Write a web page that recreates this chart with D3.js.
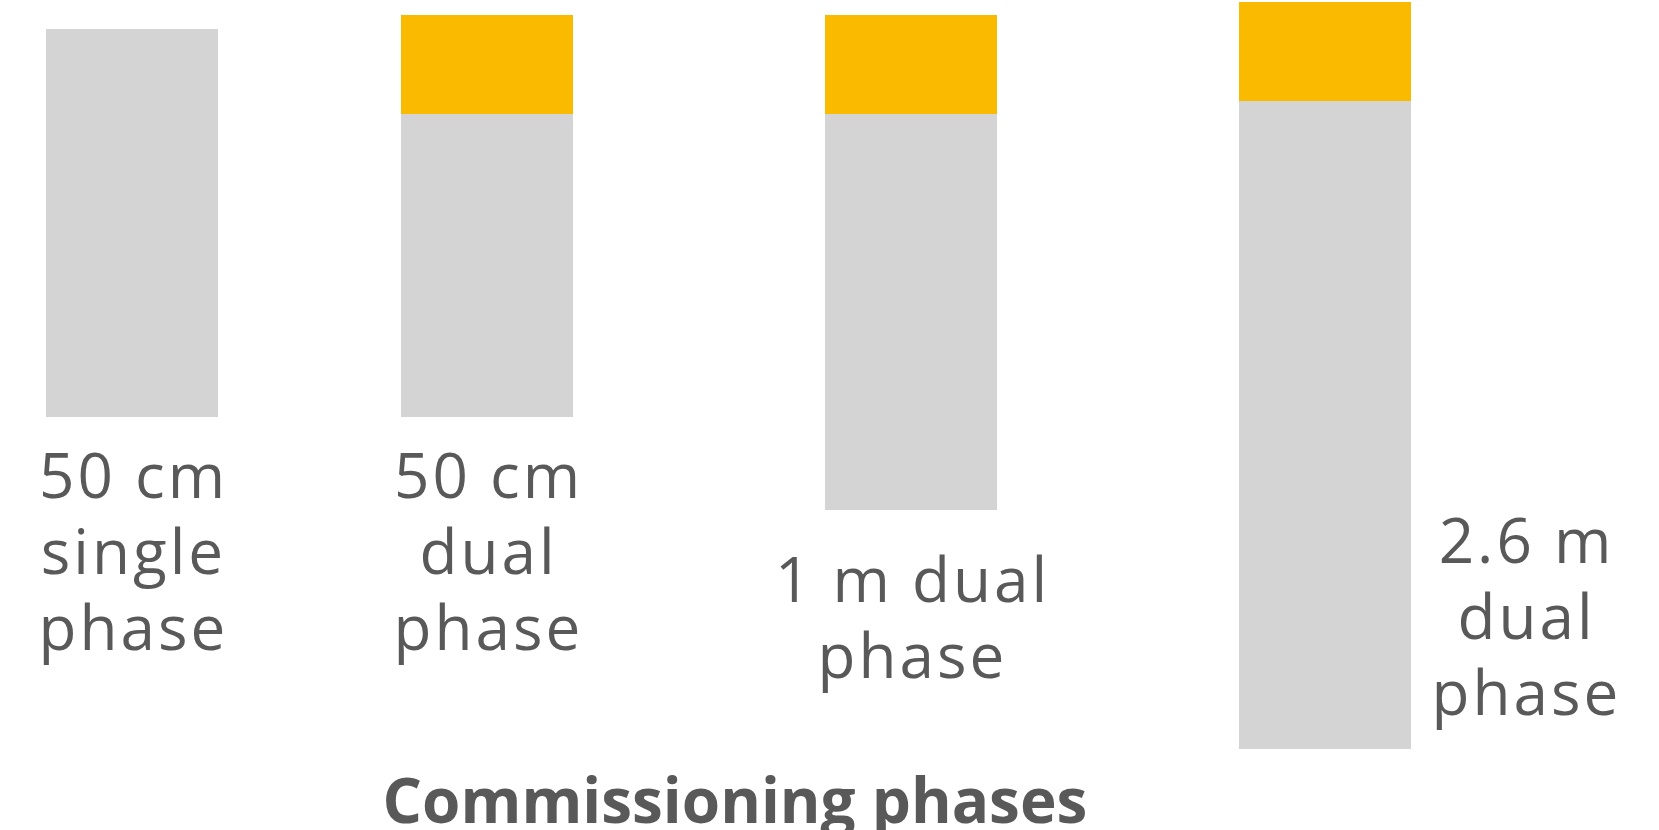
<!DOCTYPE html>
<html>
<head>
<meta charset="utf-8">
<script src="https://cdn.jsdelivr.net/npm/d3@7"></script>
<style>
  html, body { margin: 0; padding: 0; background: #ffffff; }
  svg { display: block; }
</style>
</head>
<body>
<svg id="chart" width="1659" height="830"></svg>
<script>
// Commissioning phases: each column is a floating stack (lead-in gap, dual-phase segment, base segment)
const phases = ["50 cm single phase", "50 cm dual phase", "1 m dual phase", "2.6 m dual phase"];
const phaseLabelLines = [
  ["50 cm", "single", "phase"],
  ["50 cm", "dual", "phase"],
  ["1 m dual", "phase"],
  ["2.6 m", "dual", "phase"]
];
const leadIn = [2.7, 1.3, 1.3, 0.0];
const dualSegment = [0.0, 9.9, 9.9, 9.9];
const baseSegment = [38.8, 30.3, 39.6, 64.8];
const axisTitle = "Commissioning phases";

const svg = d3.select("#chart");

const colors = { base: "#d4d4d4", dual: "#f9ba00", text: "#595959" };

// Column layout: the columns are not evenly spaced
const x = d3.scaleOrdinal().domain(phases).range([132, 487, 911, 1325]);
const barWidth = 172;
const y = d3.scaleLinear().domain([0, 75]).range([2, 752]);

const rows = phases.map((p, i) => {
  const start = leadIn[i];
  const mid = start + dualSegment[i];
  const end = mid + baseSegment[i];
  return { phase: p, i, start, mid, end, lines: phaseLabelLines[i] };
});

const g = svg.append("g");

// base (grey) segments
g.selectAll("rect.base").data(rows).join("rect")
  .attr("class", "base")
  .attr("x", d => x(d.phase) - barWidth / 2)
  .attr("width", barWidth)
  .attr("y", d => y(d.mid))
  .attr("height", d => y(d.end) - y(d.mid))
  .attr("fill", colors.base);

// dual-phase (yellow) segments
g.selectAll("rect.dual").data(rows.filter(d => d.mid > d.start)).join("rect")
  .attr("class", "dual")
  .attr("x", d => x(d.phase) - barWidth / 2)
  .attr("width", barWidth)
  .attr("y", d => y(d.start))
  .attr("height", d => y(d.mid) - y(d.start))
  .attr("fill", colors.dual);

// Category labels: below the column, except the last one which sits to its right
const lineHeight = 76;
const labelDx = [0, 0, 0, 200];
const labelGap = [81, 81, 92, null];
const fontFamily = "'Open Sans', 'Noto Sans', sans-serif";
const spacing = 3;

rows.forEach(d => {
  const cx = x(d.phase) + labelDx[d.i] + spacing / 2;
  const firstBaseline = labelGap[d.i] !== null ? y(d.end) + labelGap[d.i] : 563;
  const t = g.append("text")
    .attr("text-anchor", "middle")
    .attr("font-family", fontFamily)
    .attr("font-size", 62)
    .attr("letter-spacing", spacing)
    .attr("fill", colors.text);
  d.lines.forEach((line, k) => {
    t.append("tspan")
      .attr("x", cx)
      .attr("y", firstBaseline + k * lineHeight)
      .text(line);
  });
});

// Axis title
svg.append("text")
  .attr("x", 735)
  .attr("y", 823)
  .attr("text-anchor", "middle")
  .attr("font-family", fontFamily)
  .attr("font-weight", "bold")
  .attr("font-size", 62)
  .attr("fill", colors.text)
  .text(axisTitle);
</script>
</body>
</html>
